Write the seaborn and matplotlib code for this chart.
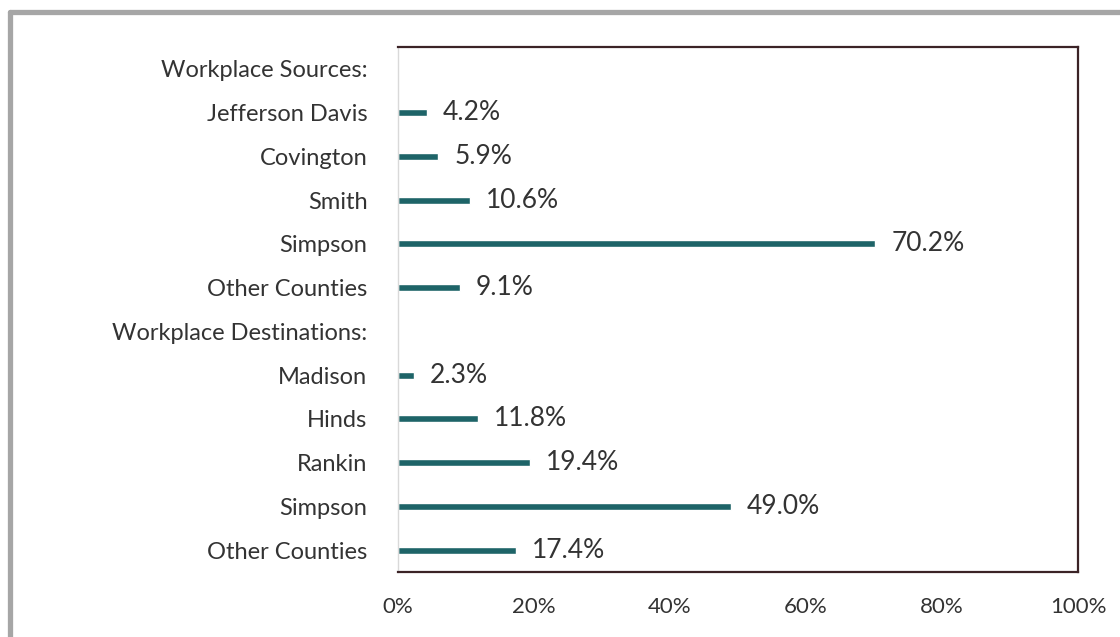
import numpy as np
import pandas as pd
import matplotlib.pyplot as plt
from matplotlib.lines import Line2D
import seaborn as sns

# Data (header rows have no value)
labels = ["Workplace Sources:", "Jefferson Davis", "Covington", "Smith", "Simpson",
          "Other Counties", "Workplace Destinations:", "Madison", "Hinds", "Rankin",
          "Simpson", "Other Counties"]
shares = [np.nan, 4.2, 5.9, 10.6, 70.2, 9.1, np.nan, 2.3, 11.8, 19.4, 49.0, 17.4]
x_ticks = [0, 20, 40, 60, 80, 100]

keys = [f"row{i}" for i in range(len(labels))]
df = pd.DataFrame({"key": keys, "label": labels, "share": shares})

sns.set_theme(style="white")
plt.rcParams['font.family'] = ['Lato', 'DejaVu Sans']

teal = "#1e6468"
text_col = "#333333"
spine_col = "#3b2326"

fig = plt.figure(figsize=(11.2, 6.37), dpi=100)
ax = fig.add_axes([398 / 1120, 1 - 572 / 637, 680 / 1120, 525 / 637])

sns.barplot(data=df, x="share", y="key", order=keys, color=teal, width=0.16,
            saturation=1, errorbar=None, ax=ax)

ax.set_xlim(0, 100)
ax.set_xticks(x_ticks)
ax.set_xticklabels([f"{t}%" for t in x_ticks])
ax.set_yticks(range(len(labels)))
ax.set_yticklabels(labels)
ax.set_xlabel("")
ax.set_ylabel("")
ax.tick_params(axis="y", length=0, pad=22, labelsize=17, labelcolor=text_col)
ax.tick_params(axis="x", length=0, pad=18, labelsize=16, labelcolor=text_col)

for i, v in enumerate(shares):
    if not np.isnan(v):
        ax.annotate(f"{v:.1f}%", (v, i), xytext=(11.5, 0), textcoords="offset points",
                    ha="left", va="center", fontsize=19, color=text_col)

for side in ["top", "right", "bottom"]:
    ax.spines[side].set_color(spine_col)
    ax.spines[side].set_linewidth(1.6)
ax.spines["left"].set_color("#d9d9d9")
ax.spines["left"].set_linewidth(1.0)

# grey frame along the top and left edges of the picture
fig.add_artist(Line2D([9.5 / 1120, 1], [1 - 11.5 / 637, 1 - 11.5 / 637],
                      color="#a6a6a6", linewidth=3.8, transform=fig.transFigure))
fig.add_artist(Line2D([9.5 / 1120, 9.5 / 1120], [0, 1 - 11.5 / 637],
                      color="#a6a6a6", linewidth=3.8, transform=fig.transFigure))

fig.savefig("out.png", dpi=100)
